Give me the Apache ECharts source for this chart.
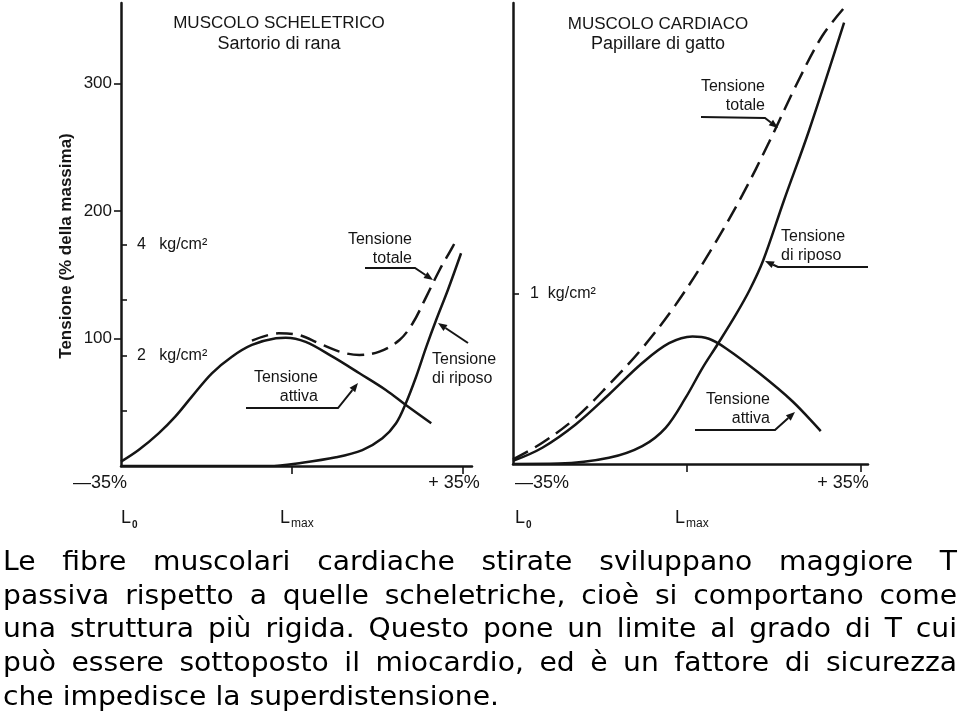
<!DOCTYPE html>
<html>
<head>
<meta charset="utf-8">
<script src="https://cdn.jsdelivr.net/npm/echarts@6/dist/echarts.min.js"></script>
<style>
html,body{margin:0;padding:0;background:#fff;}
#chart{width:960px;height:715px;}
</style>
</head>
<body>
<div id="chart"></div>
<script>
// ---------- DATA ----------
// x: length change (% relative to Lmax), y: tension (% of maximum)
// Skeletal muscle (frog sartorius)
const skelActiveX  = [-35, -31.4, -27.3, -23.9, -20.5, -16.4, -12.3, -8.2, -3.3, -1.3, 2.8, 8.3, 13.8, 19.2, 23.3, 28.5];
const skelActiveY  = [3.4, 12.5, 25.6, 38.7, 54.4, 72.7, 85.7, 94.9, 100.2, 100.6, 97.3, 85.7, 72.7, 59.6, 47.8, 33.5];
const skelRestX    = [-35, -20, -4.7, 2.1, 9.0, 14.4, 18.5, 21.3, 23.3, 25.4, 27.5, 29.5, 31.9, 34.6];
const skelRestY    = [0, 0, 0, 2.6, 6.8, 12.5, 21.7, 33.5, 49.2, 70.0, 93.6, 114.5, 138, 166.8];
const skelTotalX   = [-8.2, -2.7, 1.4, 5.5, 9.7, 13.8, 17.9, 22.0, 24.7, 27.5, 30.2, 32.9, 33.9];
const skelTotalY   = [98.3, 104, 102.7, 96.2, 89.7, 87, 89.7, 98.8, 111.9, 132.8, 153.7, 172, 179.9];
// Cardiac muscle (cat papillary)
const cardActiveX  = [-35, -29.1, -22.4, -15.7, -9.0, -3.6, 1.1, 4.4, 7.8, 14.5, 21.2, 26.9];
const cardActiveY  = [2.4, 12.8, 31.1, 54.7, 79.5, 95.1, 100.4, 98.6, 91.2, 71.6, 49.4, 25.9];
const cardRestX    = [-35, -25.8, -15.7, -9.0, -4.3, -0.3, 3.1, 6.1, 9.8, 12.6, 15.3, 19.5, 24.5, 31.6];
const cardRestY    = [0, 0.3, 4.9, 14.1, 28.5, 52, 75.5, 93.9, 117.4, 137, 160, 207.5, 262, 347.5];
const cardTotalX   = [-35, -29.1, -22.4, -15.7, -9.0, -2.3, 4.6, 11.1, 16.5, 21.9, 27.2, 31.8];
const cardTotalY   = [3.7, 16.7, 36.3, 62.5, 91.2, 125.3, 167, 211.5, 253.3, 297.8, 337, 360];

// Axis ticks / labels
const pctTicks      = [100, 200, 300];
const skelKgTicks   = [1, 2, 3, 4];
const skelKgLabels  = [2, 4];
const cardKgTicks   = [1];
const cardKgLabels  = [1];
const pctPerKgSkel  = 43.4;   // % of max per kg/cm² (skeletal)
const pctPerKgCard  = 133.9;  // % of max per kg/cm² (cardiac)
const xTicks        = [0, 35];
const yMaxPct       = 363;

const titles = [["MUSCOLO SCHELETRICO", "Sartorio di rana"], ["MUSCOLO CARDIACO", "Papillare di gatto"]];
const yTitle = "Tensione (% della massima)";
const para = [
  "Le fibre muscolari cardiache stirate sviluppano maggiore T",
  "passiva rispetto a quelle scheletriche, cioè si comportano come",
  "una struttura più rigida. Questo pone un limite al grado di T cui",
  "può essere sottoposto il miocardio, ed è un fattore di sicurezza",
  "che impedisce la superdistensione."
];

// ---------- STYLE ----------
const INK = '#151515';
const FONT = "'Liberation Sans', Arial, sans-serif";
const zip = (xs, ys) => xs.map((x, i) => [x, ys[i]]);

function lineSeries(xi, yi, xs, ys, dashed) {
  return {
    type: 'line', xAxisIndex: xi, yAxisIndex: yi, data: zip(xs, ys),
    smooth: 0.35, symbol: 'none', silent: true,
    lineStyle: { color: INK, width: 2.5, type: dashed ? [17, 8] : 'solid', cap: 'butt' }
  };
}

function arrow(pts) {
  const n = pts.length;
  const [x1, y1] = pts[n - 2], [x2, y2] = pts[n - 1];
  const a = Math.atan2(y2 - y1, x2 - x1);
  const L = 9, W = 3.6;
  const bx = x2 - L * Math.cos(a), by = y2 - L * Math.sin(a);
  const px = -Math.sin(a) * W, py = Math.cos(a) * W;
  const linePts = pts.slice(0, n - 1).concat([[bx, by]]);
  return [
    { type: 'polyline', shape: { points: linePts }, style: { stroke: INK, lineWidth: 2, fill: null } },
    { type: 'polygon', shape: { points: [[x2, y2], [bx + px, by + py], [bx - px, by - py]] }, style: { fill: INK } }
  ];
}

function txt(x, y, text, align, size) {
  return {
    type: 'text', x: x, y: y,
    style: { text: text, fill: INK, fontSize: size || 16, fontFamily: FONT, align: align || 'left', verticalAlign: 'middle', lineHeight: 19 }
  };
}

function richL(x, y, sub) {
  return {
    type: 'text', x: x, y: y,
    style: {
      text: '{a|L}{b|' + sub + '}', fill: INK, align: 'left', verticalAlign: 'middle',
      rich: {
        a: { fontSize: 18, fontFamily: FONT, fill: INK, verticalAlign: 'bottom' },
        b: { fontSize: sub === 'max' ? 12 : 10, fontFamily: FONT, fill: INK, fontWeight: sub === 'max' ? 'normal' : 'bold', verticalAlign: 'bottom', padding: [0, 0, -3, 1] }
      }
    }
  };
}

const graphics = [];
// titles
graphics.push(txt(279, 23, titles[0][0], 'center', 17));
graphics.push(txt(279, 44, titles[0][1], 'center', 18));
graphics.push(txt(658, 24, titles[1][0], 'center', 17));
graphics.push(txt(658, 44, titles[1][1], 'center', 18));
// y-axis title
graphics.push({ type: 'text', x: 66, y: 246, rotation: Math.PI / 2,
  style: { text: yTitle, fill: INK, fontSize: 17, fontWeight: 'bold', fontFamily: FONT, align: 'center', verticalAlign: 'middle' } });
// bottom axis labels
graphics.push(txt(127, 483, '—35%', 'right', 18));
graphics.push(txt(454, 483, '+ 35%', 'center', 18));
graphics.push(txt(515, 483, '—35%', 'left', 18));
graphics.push(txt(843, 483, '+ 35%', 'center', 18));
graphics.push(richL(121, 518, '0'));
graphics.push(richL(280, 518, 'max'));
graphics.push(richL(515, 518, '0'));
graphics.push(richL(675, 518, 'max'));
// annotations
graphics.push(txt(412, 249, 'Tensione\ntotale', 'right', 16));
graphics.push(txt(432, 369, 'Tensione\ndi riposo', 'left', 16));
graphics.push(txt(318, 387, 'Tensione\nattiva', 'right', 16));
graphics.push(txt(765, 96, 'Tensione\ntotale', 'right', 16));
graphics.push(txt(781, 246, 'Tensione\ndi riposo', 'left', 16));
graphics.push(txt(770, 409, 'Tensione\nattiva', 'right', 16));
[
  [[365, 268], [415, 268], [433, 280]],
  [[468, 343], [438, 323]],
  [[246, 408], [338, 408], [358, 383]],
  [[701, 117], [765, 118], [778, 128]],
  [[868, 267], [778, 267], [765, 261]],
  [[695, 430], [775, 430], [795, 412]]
].forEach(p => arrow(p).forEach(g => graphics.push(g)));

// paragraph, justified
(function () {
  const PF = 'DejaVu Sans', PS = 26;
  const c = document.createElement('canvas').getContext('2d');
  c.font = PS + 'px "' + PF + '"';
  const left = 3, right = 957, lastEnd = 499;
  const s = (lastEnd - left) / c.measureText(para[para.length - 1]).width;
  const space = c.measureText(' ').width * s;
  para.forEach((line, li) => {
    const words = line.split(' ');
    const ws = words.map(w => c.measureText(w).width * s);
    const sum = ws.reduce((a, b) => a + b, 0);
    const last = li === para.length - 1;
    const gap = last ? space : (right - left - sum) / (words.length - 1);
    let x = left;
    const y = 563 + li * 33.8;
    words.forEach((w, i) => {
      graphics.push({ type: 'text', x: x, y: y, scaleX: s, scaleY: 1,
        style: { text: w, fill: '#000', fontSize: PS, fontFamily: PF, align: 'left', verticalAlign: 'middle' } });
      x += ws[i] + gap;
    });
  });
})();

const axisLineStyle = { color: INK, width: 2.5 };
const tickStyle = { color: INK, width: 1.6 };

const option = {
  animation: false,
  backgroundColor: '#ffffff',
  grid: [
    { left: 121, top: 3, width: 351, height: 463 },
    { left: 513, top: 3, width: 355, height: 461 }
  ],
  xAxis: [
    { gridIndex: 0, type: 'value', min: -35, max: 36.84,
      axisLine: { onZero: false, lineStyle: axisLineStyle }, axisTick: { show: true, customValues: xTicks, length: 8, lineStyle: tickStyle },
      axisLabel: { show: false }, splitLine: { show: false } },
    { gridIndex: 1, type: 'value', min: -35, max: 36.41,
      axisLine: { onZero: false, lineStyle: axisLineStyle }, axisTick: { show: true, customValues: xTicks, length: 8, lineStyle: tickStyle },
      axisLabel: { show: false }, splitLine: { show: false } }
  ],
  yAxis: [
    { gridIndex: 0, type: 'value', min: 0, max: yMaxPct, position: 'left',
      axisLine: { show: true, onZero: false, lineStyle: axisLineStyle },
      axisTick: { show: true, customValues: pctTicks, length: 7, lineStyle: tickStyle },
      axisLabel: { show: true, customValues: pctTicks, margin: 9, fontSize: 17, color: INK, fontFamily: FONT },
      splitLine: { show: false } },
    { gridIndex: 0, type: 'value', min: 0, max: yMaxPct / pctPerKgSkel, position: 'left',
      axisLine: { show: false, onZero: false },
      axisTick: { show: true, inside: true, customValues: skelKgTicks, length: 6, lineStyle: tickStyle },
      axisLabel: { show: true, inside: true, customValues: skelKgLabels, margin: 16, fontSize: 16, color: INK, fontFamily: FONT,
        formatter: v => v + '   kg/cm²' },
      splitLine: { show: false } },
    { gridIndex: 1, type: 'value', min: 0, max: yMaxPct, position: 'left',
      axisLine: { show: true, onZero: false, lineStyle: axisLineStyle },
      axisTick: { show: false }, axisLabel: { show: false }, splitLine: { show: false } },
    { gridIndex: 1, type: 'value', min: 0, max: yMaxPct / pctPerKgCard, position: 'left',
      axisLine: { show: false, onZero: false },
      axisTick: { show: true, inside: true, customValues: cardKgTicks, length: 6, lineStyle: tickStyle },
      axisLabel: { show: true, inside: true, customValues: cardKgLabels, margin: 17, fontSize: 16, color: INK, fontFamily: FONT,
        formatter: v => v + '  kg/cm²' },
      splitLine: { show: false } }
  ],
  series: [
    lineSeries(0, 0, skelActiveX, skelActiveY, false),
    lineSeries(0, 0, skelRestX, skelRestY, false),
    lineSeries(0, 0, skelTotalX, skelTotalY, true),
    lineSeries(1, 2, cardActiveX, cardActiveY, false),
    lineSeries(1, 2, cardRestX, cardRestY, false),
    lineSeries(1, 2, cardTotalX, cardTotalY, true)
  ],
  graphic: graphics
};

const chart = echarts.init(document.getElementById('chart'), null, { renderer: 'canvas', width: 960, height: 715 });
chart.setOption(option);
</script>
</body>
</html>
